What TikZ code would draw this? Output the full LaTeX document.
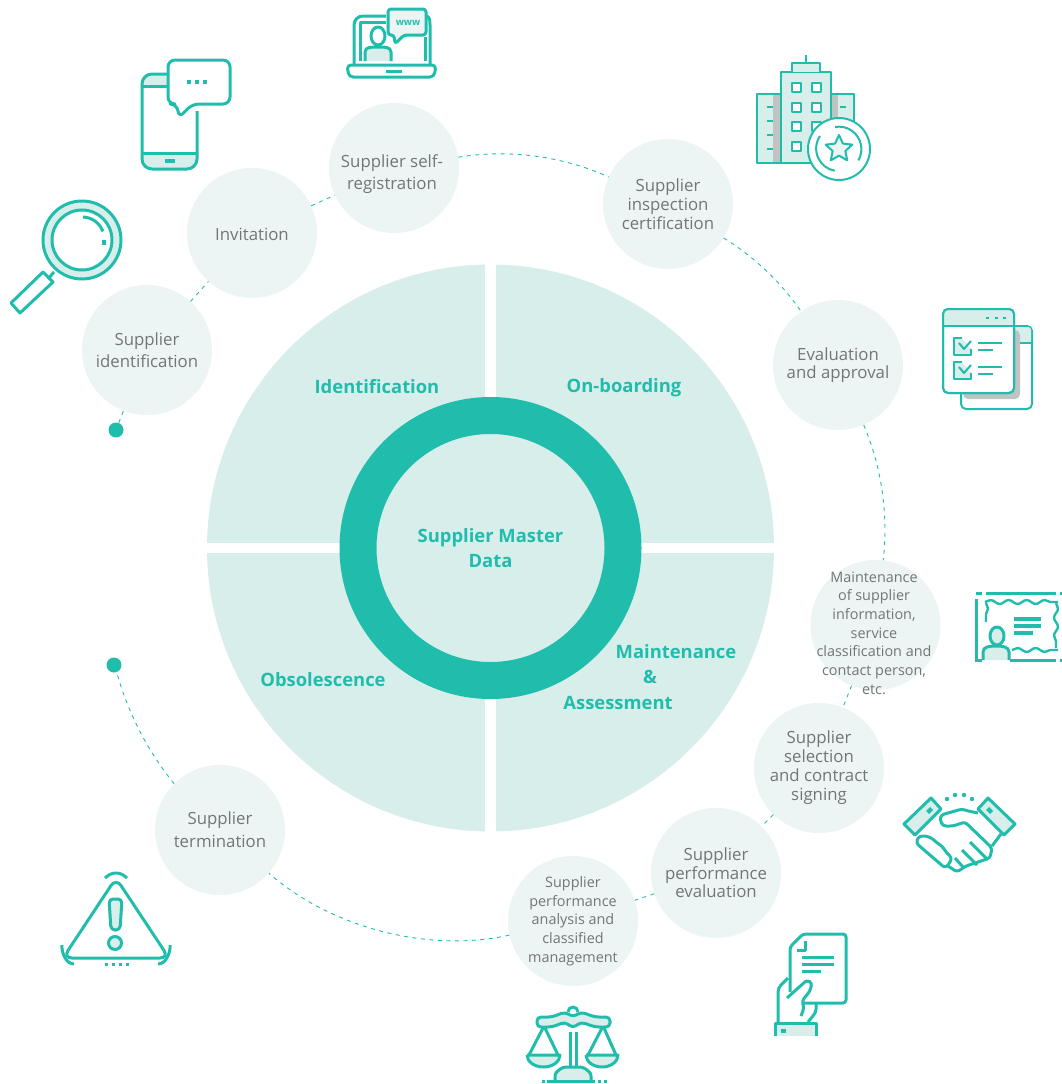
\documentclass[tikz,border=0pt]{standalone}
\usepackage{fontspec}
\setmainfont{Open Sans}
\usetikzlibrary{shapes.geometric,decorations.pathmorphing}
\definecolor{mainteal}{HTML}{21BDAC}
\definecolor{softteal}{HTML}{D8EEEA}
\definecolor{paleteal}{HTML}{ECF5F3}
\definecolor{labelgrey}{HTML}{717676}
\definecolor{shadegrey}{HTML}{BFC4C3}
\tikzset{
    stage/.style={circle,fill=paleteal,minimum size=130,inner sep=0,align=center,text=labelgrey,font=\fontsize{16.8}{19}\selectfont},
    smallstage/.style={stage,font=\fontsize{14.4}{18.7}\selectfont},
    stagetext/.style={inner sep=0,align=center,text=labelgrey,font=\fontsize{16.8}{22}\selectfont},
    phase/.style={align=center,text=mainteal,font=\bfseries\fontsize{18.4}{25.5}\selectfont},
    link/.style={draw=mainteal,line width=0.9,dash pattern=on 4 off 4.5},
    enddot/.style={circle,fill=mainteal,minimum size=15,inner sep=0},
    icon/.style={draw=mainteal,line width=3,line join=round},
    thinicon/.style={draw=mainteal,line width=2,line join=round},
    wavy/.style={icon,line width=2.4,decorate,decoration={snake,amplitude=2,segment length=18}},
}
\begin{document}
\begin{tikzpicture}[x=1pt,y=-1pt]
    \useasboundingbox (0,0) rectangle (1062,1084);

    % quarters and ring
    \fill[softteal] (490.5,548) circle (283.5);
    \fill[white] (485,260) rectangle (496,836);
    \fill[white] (200,543) rectangle (780,553);
    \draw[mainteal,line width=37,fill=softteal] (490.5,548) circle (132.5);
    \node[phase] (identif) at (377,387) {Identification};
    \node[phase] (onboard) at (624,388) {On-boarding};
    \node[phase] (obsol) at (323,680) {Obsolescence};
    \node[phase] (maint) at (650,677) {\hspace*{52pt}Maintenance\\\hspace*{0pt}\&\\\hspace*{-64pt}Assessment};
    \node[phase] (master) at (490.5,548) {Supplier Master\\Data};

    % stages
    \node[stage,font=\fontsize{16.8}{22}\selectfont] (s1) at (147,350) {Supplier\\identification};
    \node[stage] (s2) at (252,233) {};
    \node[stagetext] (s2text) at (252,234) {Invitation};
    \node[stage] (s3) at (394,168) {};
    \node[stagetext] (s3text) at (392,174) {Supplier self-\\registration};
    \node[stage] (s4) at (668,204) {Supplier\\inspection\\certification};
    \node[stage,font=\fontsize{16.8}{18.5}\selectfont] (s5) at (838,365) {Evaluation\\and approval};
    \node[stage] (s6) at (875.5,625) {};
    \node[smallstage,fill=none,minimum size=0,rectangle] (s6text) at (874,633) {Maintenance\\of supplier\\information,\\service\\classification and\\contact person,\\etc.};
    \node[stage] (s7) at (819,768) {Supplier\\selection\\and contract\\signing};
    \node[stage,font=\fontsize{16.8}{18.5}\selectfont] (s8) at (716,873) {Supplier\\performance\\evaluation};
    \node[smallstage] (s9) at (573,921) {Supplier\\performance\\analysis and\\classified\\management};
    \node[stage,font=\fontsize{16.8}{23}\selectfont] (s10) at (220,830) {Supplier\\termination};
    \node[enddot] (start) at (116,430) {};
    \node[enddot] (stop) at (114,665) {};

    % dashed links
    \draw[link] (start) -- (s1);
    \draw[link] (s1) -- (s2);
    \draw[link] (s2) -- (s3);
    \draw[link] (s3) to[bend left=17,looseness=0.85] (s4);
    \draw[link] (s4) to[bend left=12,looseness=0.85] (s5);
    \draw[link] (s5) to[bend left=15,looseness=0.85] (s6);
    \draw[link] (s6) -- (s7);
    \draw[link] (s7) -- (s8);
    \draw[link] (s8) -- (s9);
    \draw[link] (s9) to[bend left=27,looseness=0.85] (s10);
    \draw[link] (s10) to[bend left=12,looseness=0.85] (stop);

    % laptop
    \draw[icon] (386,16) -- (363,16) to[out=180,in=90] (354,25) -- (354,65);
    \draw[icon] (426,16) to[out=0,in=90] (430,25) -- (430,65);
    \draw[icon] (360,61) -- (360,22) -- (386,22);
    \draw[icon] (425,37) -- (425,61);
    \fill[softteal] (365,61) -- (365,52) to[out=90,in=180] (378,47) to[out=0,in=90] (391,52) -- (391,61) -- cycle;
    \draw[icon] (365,61) -- (365,52) to[out=90,in=180] (378,47) to[out=0,in=90] (391,52) -- (391,61);
    \draw[icon,fill=white] (378,36) ellipse (7 and 9);
    \draw[icon,rounded corners=4] (347,65) -- (436,65) -- (434,77) -- (349,77) -- cycle;
    \draw[icon] (386,71) -- (402,71);
    \draw[icon,fill=paleteal,rounded corners=3] (388,9) -- (426,9) -- (426,35) -- (404,35) -- (395,44) -- (394,35) -- (388,35) -- cycle;
    \node[text=mainteal,font=\bfseries\fontsize{9.5}{10}\selectfont,inner sep=0] (www) at (408,23) {www};

    % phone
    \fill[softteal,rounded corners=8] (142,74) rectangle (168,100);
    \fill[white] (142,87) rectangle (168,105);
    \fill[softteal,rounded corners=10] (142,140) rectangle (197,169);
    \fill[white] (140,138) rectangle (199,153);
    \draw[icon,rounded corners=10] (167,74) -- (142,74) -- (142,169) -- (197,169) -- (197,111);
    \draw[icon] (142,86) -- (167,86);
    \draw[icon] (142,153) -- (197,153);
    \draw[mainteal,line width=4] (165,161) -- (175,161);
    \draw[icon,rounded corners=7] (168,60) -- (230,60) -- (230,104) -- (192,104) -- (179,118) -- (177,104) -- (168,104) -- cycle;
    \foreach \dotx in {189,197,205}
        \fill[mainteal] (\dotx-2,80) rectangle (\dotx+2,84);

    % magnifier
    \fill[softteal] (82,240) circle (39);
    \draw[icon] (82,240) circle (39);
    \draw[icon,fill=white] (82,240) circle (30);
    \draw[icon] (83,217) arc (-88:-20:22);
    \fill[mainteal] (102,240) rectangle (106,245);
    \draw[icon] (54,272) -- (48,279);
    \draw[icon] (43,272) -- (53,282) -- (20,313) -- (11,303) -- cycle;

    % building
    \fill[softteal] (757,94) rectangle (854,163);
    \fill[shadegrey] (773,94) rectangle (781,163);
    \fill[shadegrey] (831,94) rectangle (838,135);
    \draw[thinicon] (781,94) -- (757,94) -- (757,163) -- (815,163);
    \draw[thinicon] (831,94) -- (854,94) -- (854,125);
    \draw[thinicon,fill=softteal] (781,163) -- (781,72) -- (831,72) -- (831,125);
    \fill[softteal] (782,73) rectangle (830,162);
    \draw[thinicon,fill=softteal] (792,72) -- (792,63) -- (820,63) -- (820,72);
    \draw[thinicon] (806,63) -- (806,55);
    \foreach \winx in {796,816}
        \foreach \winy in {87,107,126,146}
            \draw[thinicon,fill=white] (\winx-4.5,\winy-4.5) rectangle (\winx+4.5,\winy+4.5);
    \foreach \ticky in {107,121,135,149}
        \draw[thinicon] (767,\ticky) -- (773,\ticky);
    \draw[thinicon] (840,107) -- (846,107);
    \draw[thinicon,fill=white] (839,149) circle (31);
    \draw[thinicon] (820,136) arc (-146:-260:22.5);
    \draw[thinicon] (835,127) arc (-100:30:22.5);
    \node[star,star points=5,star point ratio=2.1,draw=mainteal,line width=2,fill=paleteal,minimum size=28,inner sep=0,line join=round] (badge) at (839,149) {};

    % checklist
    \draw[thinicon,fill=white,rounded corners=5] (961,326) rectangle (1032,409);
    \fill[softteal,rounded corners=3] (1014,327) rectangle (1031,343);
    \draw[thinicon] (1014,343) -- (1032,343);
    \fill[shadegrey,rounded corners=5] (963,330) rectangle (1020,399);
    \draw[thinicon,fill=white,rounded corners=5] (943,309) rectangle (1014,393);
    \begin{scope}
        \clip[rounded corners=5] (943,309) rectangle (1014,393);
        \fill[softteal] (943,309) rectangle (1014,326);
    \end{scope}
    \draw[thinicon,rounded corners=5] (943,309) rectangle (1014,393);
    \draw[thinicon] (943,326) -- (1014,326);
    \foreach \dotx in {987,996,1004}
        \draw[mainteal,line width=1.5] (\dotx-1.5,318) -- (\dotx+1.5,318);
    \foreach \boxy/\liney in {338/343,362/367} {
        \draw[thinicon,fill=softteal] (962,\boxy) -- (954,\boxy) -- (954,\boxy+17) -- (971,\boxy+17) -- (971,\boxy+11);
        \draw[thinicon] (959,\boxy+5) -- (964,\boxy+11) -- (971,\boxy+3);
        \draw[thinicon] (978,\liney) -- (1002,\liney);
        \draw[thinicon] (978,\liney+7) -- (993,\liney+7);
    }

    % certificate
    \draw[mainteal,line width=3] (976,599) -- (976,660) -- (982,660);
    \draw[mainteal,line width=3] (976,593) -- (982,593);
    \draw[mainteal,line width=3] (986,593) -- (1056,593);
    \draw[mainteal,line width=3] (1060,593) -- (1062,593);
    \draw[mainteal,line width=3] (1010,660) -- (1056,660);
    \draw[mainteal,line width=3] (1060,660) -- (1062,660);
    \draw[wavy] (985,602) -- (1058,602);
    \draw[wavy] (986,603) -- (986,622);
    \draw[wavy] (1056,603) -- (1056,648);
    \draw[wavy] (1012,650) -- (1058,650);
    \fill[softteal] (983,660) -- (983,652) to[out=90,in=180] (996,646) to[out=0,in=90] (1009,652) -- (1009,660) -- cycle;
    \draw[icon] (983,660) -- (983,652) to[out=90,in=180] (996,646) to[out=0,in=90] (1009,652) -- (1009,660);
    \draw[icon,fill=softteal] (997,636) ellipse (7 and 9);
    \fill[mainteal] (1014,617) rectangle (1041,621);
    \fill[mainteal] (1014,624) rectangle (1041,628);
    \fill[mainteal] (1014,631) rectangle (1033,635);

    % handshake
    \draw[icon,fill=softteal] (931,798) -- (941,809) -- (915,835) -- (904,824) -- cycle;
    \draw[icon,fill=softteal] (988,798) -- (1015,824) -- (1004,835) -- (978,809) -- cycle;
    \fill[mainteal] (926,811) -- (930,807) -- (933,810) -- (929,814) -- cycle;
    \fill[mainteal] (989,807) -- (993,811) -- (990,814) -- (986,810) -- cycle;
    \draw[icon,rounded corners=3] (978,813) -- (968,811) -- (962,809) -- (941,815) -- (940,820) -- (943,826) -- (953,826) -- (965,822) -- (992,848) -- (990,858) -- (975,863) -- (966,866) -- (957,872) -- (948,866);
    \draw[icon] (992,846) -- (1001,834);
    \draw[icon,rounded corners=3] (919,836) -- (916,843) -- (945,868) -- (949,864) -- (952,858) -- (946,852) -- (942,846) -- (937,843) -- (933,839) -- (927,836) -- cycle;
    \draw[icon] (970,842) -- (987,859);
    \draw[icon] (962,850) -- (977,865);
    \draw[icon] (955,858) -- (963,867);
    \foreach \sparkx/\sparky in {947/799,955/795,964/795,972/799}
        \fill[mainteal] (\sparkx,\sparky) circle (2.2);

    % document in hand
    \draw[icon,rounded corners=3] (790,992) -- (790,947) -- (803,934) -- (846,934) -- (846,1003) -- (802,1003);
    \draw[icon] (797,950) -- (805,950) -- (805,941);
    \draw[icon] (802,957) -- (834,957);
    \draw[icon] (802,964) -- (834,964);
    \draw[icon] (802,971) -- (821,971);
    \draw[icon,rounded corners=3] (787,998) -- (807,980) -- (812,983) -- (810,991) -- (802,1001) -- (804,1008) -- (801,1016);
    \draw[icon,rounded corners=4] (788,978) -- (778,988) -- (778,1023);
    \draw[icon,rounded corners=3] (816,1003) -- (816,1012) -- (808,1022);
    \fill[softteal] (775,1023) rectangle (816,1036);
    \draw[icon] (775,1036) -- (775,1023) -- (816,1023) -- (816,1036);
    \fill[mainteal] (781,1029) rectangle (786,1033);

    % scales
    \draw[icon,fill=softteal,rounded corners=4] (537,1017) -- (552,1017) -- (565,1012) -- (573,1017) -- (581,1012) -- (595,1017) -- (610,1017) -- (610,1027) -- (595,1027) -- (581,1022) -- (573,1028) -- (565,1022) -- (552,1027) -- (537,1027) -- cycle;
    \draw[icon] (568,1012) arc (180:360:5);
    \draw[icon] (570,1032) -- (570,1067);
    \draw[icon] (576,1032) -- (576,1067);
    \draw[icon] (543,1028) -- (529,1055);
    \draw[icon] (545,1028) -- (558,1055);
    \draw[icon] (602,1028) -- (588,1055);
    \draw[icon] (604,1028) -- (616,1055);
    \draw[icon,fill=softteal] (527,1055) -- (560,1055) arc (0:180:16.5 and 12);
    \draw[icon,fill=softteal] (586,1055) -- (618,1055) arc (0:180:16 and 12);
    \draw[icon,fill=softteal,rounded corners=3] (555,1081) -- (555,1073) -- (563,1067) -- (583,1067) -- (591,1073) -- (591,1081);
    \draw[icon] (547,1081) -- (595,1081);
    \fill[mainteal] (542,1079.5) rectangle (545,1083);
    \fill[mainteal] (598,1079.5) rectangle (601,1083);
    \fill[mainteal] (604,1079.5) rectangle (607,1083);

    % warning
    \draw[icon,rounded corners=9] (116,878) -- (63,958) -- (169,958) -- cycle;
    \draw[icon,fill=softteal,rounded corners=4] (109,899) -- (122,899) -- (120,930) -- (111,930) -- cycle;
    \draw[icon,fill=softteal] (115,943) circle (6.5);
    \draw[icon] (105,878) to[out=40,in=180] (116,873) to[out=0,in=140] (127,878);
    \draw[icon] (62,945) to[out=-95,in=180,looseness=0.9] (74,964);
    \draw[icon] (170,945) to[out=-85,in=0,looseness=0.9] (158,964);
    \foreach \dotx in {106,113,120,127}
        \fill[mainteal] (\dotx-1.5,962.5) rectangle (\dotx+1.5,966);
\end{tikzpicture}
\end{document}
